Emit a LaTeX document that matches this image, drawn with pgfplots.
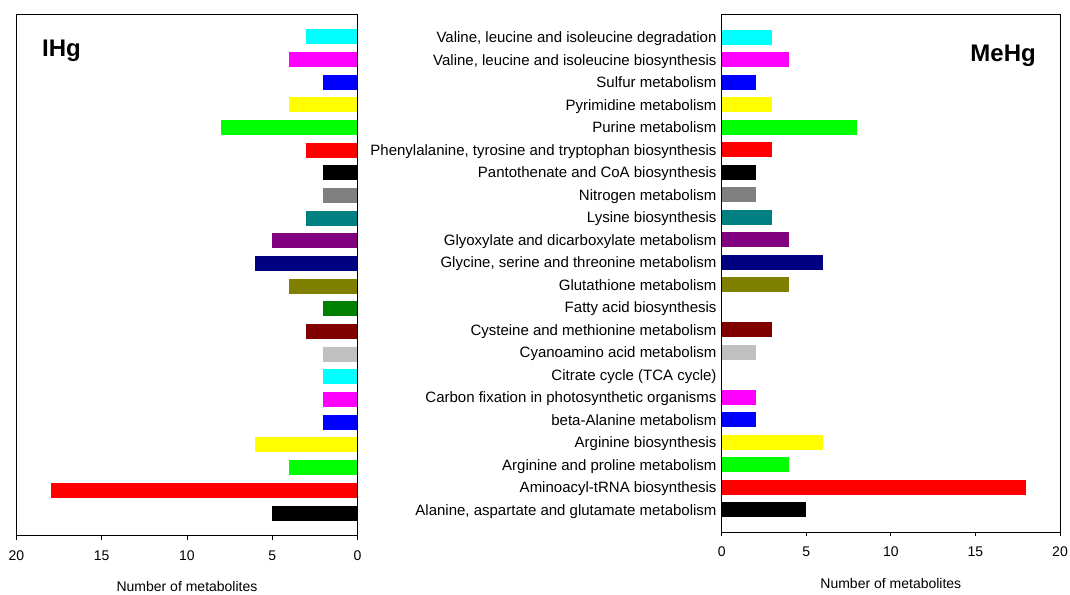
\documentclass[border=0pt]{standalone}
\usepackage{pgfplots}
\pgfplotsset{compat=1.18}
\usepackage{fontspec}
\setmainfont{Liberation Sans}
\definecolor{cBlack}{RGB}{0,0,0}
\definecolor{cRed}{RGB}{255,0,0}
\definecolor{cLime}{RGB}{0,255,0}
\definecolor{cYellow}{RGB}{255,255,0}
\definecolor{cBlue}{RGB}{0,0,255}
\definecolor{cMagenta}{RGB}{255,0,255}
\definecolor{cCyan}{RGB}{0,255,255}
\definecolor{cSilver}{RGB}{192,192,192}
\definecolor{cMaroon}{RGB}{128,0,0}
\definecolor{cDkGreen}{RGB}{0,128,0}
\definecolor{cOlive}{RGB}{128,128,0}
\definecolor{cNavy}{RGB}{0,0,128}
\definecolor{cPurple}{RGB}{128,0,128}
\definecolor{cTeal}{RGB}{0,128,128}
\definecolor{cGray}{RGB}{128,128,128}
\newcommand{\hb}[3]{\addplot[fill=#1,draw=none] coordinates {(#2,#3)};}
\pgfplotsset{
  common/.style={
    scale only axis,
    ymin=-1, ymax=22, xmin=0, xmax=20,
    xbar, bar width=15bp, bar shift=0pt,
    xtick={0,5,10,15,20},
    xtick pos=left,
    tick align=outside,
    major tick length=4bp,
    axis line style={line width=0.9bp, black},
    every tick/.style={line width=0.9bp, black},
    ticklabel style={font=\fontsize{14bp}{16bp}\selectfont},
    /pgf/number format/assume math mode=true,
    xlabel={Number of metabolites},
    clip=false,
  }
}
\begin{document}
\begin{tikzpicture}
\path[use as bounding box] (0bp,0bp) rectangle (1070bp,595bp);
% Left: IHg
\begin{axis}[common,
  at={(16.5bp,59.3bp)}, anchor=south west,
  width=341bp, height=521.7bp,
  x dir=reverse,
  ytick=\empty,
  xticklabel style={anchor=base, yshift=-20.3bp},
  xlabel style={at={(axis description cs:0.5,0)}, anchor=base, yshift=-55.3bp, font=\fontsize{14bp}{16bp}\selectfont},
]
\hb{cBlack}{5}{0}
\hb{cRed}{18}{1}
\hb{cLime}{4}{2}
\hb{cYellow}{6}{3}
\hb{cBlue}{2}{4}
\hb{cMagenta}{2}{5}
\hb{cCyan}{2}{6}
\hb{cSilver}{2}{7}
\hb{cMaroon}{3}{8}
\hb{cDkGreen}{2}{9}
\hb{cOlive}{4}{10}
\hb{cNavy}{6}{11}
\hb{cPurple}{5}{12}
\hb{cTeal}{3}{13}
\hb{cGray}{2}{14}
\hb{cBlack}{2}{15}
\hb{cRed}{3}{16}
\hb{cLime}{8}{17}
\hb{cYellow}{4}{18}
\hb{cBlue}{2}{19}
\hb{cMagenta}{4}{20}
\hb{cCyan}{3}{21}
\end{axis}
% Right: MeHg
\begin{axis}[common,
  at={(721.7bp,62.7bp)}, anchor=south west,
  width=338.3bp, height=517.6bp,
  ytick={0,...,21},
  ytick pos=left,
  ytick style={draw=none},
  yticklabel style={anchor=base east, yshift=-5.4bp, xshift=2.3bp, font=\fontsize{15bp}{17bp}\selectfont},
  yticklabels={
    {Alanine, aspartate and glutamate metabolism},
    {Aminoacyl-tRNA biosynthesis},
    {Arginine and proline metabolism},
    {Arginine biosynthesis},
    {beta-Alanine metabolism},
    {Carbon fixation in photosynthetic organisms},
    {Citrate cycle (TCA cycle)},
    {Cyanoamino acid metabolism},
    {Cysteine and methionine metabolism},
    {Fatty acid biosynthesis},
    {Glutathione metabolism},
    {Glycine, serine and threonine metabolism},
    {Glyoxylate and dicarboxylate metabolism},
    {Lysine biosynthesis},
    {Nitrogen metabolism},
    {Pantothenate and CoA biosynthesis},
    {Phenylalanine, tyrosine and tryptophan biosynthesis},
    {Purine metabolism},
    {Pyrimidine metabolism},
    {Sulfur metabolism},
    {Valine, leucine and isoleucine biosynthesis},
    {Valine, leucine and isoleucine degradation}},
  xticklabel style={anchor=base, yshift=-19.7bp},
  xlabel style={at={(axis description cs:0.5,0)}, anchor=base, yshift=-56bp, font=\fontsize{14bp}{16bp}\selectfont},
]
\hb{cBlack}{5}{0}
\hb{cRed}{18}{1}
\hb{cLime}{4}{2}
\hb{cYellow}{6}{3}
\hb{cBlue}{2}{4}
\hb{cMagenta}{2}{5}
% Citrate cycle (TCA cycle): 0
\hb{cSilver}{2}{7}
\hb{cMaroon}{3}{8}
% Fatty acid biosynthesis: 0
\hb{cOlive}{4}{10}
\hb{cNavy}{6}{11}
\hb{cPurple}{4}{12}
\hb{cTeal}{3}{13}
\hb{cGray}{2}{14}
\hb{cBlack}{2}{15}
\hb{cRed}{3}{16}
\hb{cLime}{8}{17}
\hb{cYellow}{3}{18}
\hb{cBlue}{2}{19}
\hb{cMagenta}{4}{20}
\hb{cCyan}{3}{21}
\end{axis}
\node[anchor=base west, font=\bfseries\fontsize{24bp}{26bp}\selectfont, inner sep=0pt] at (42bp,538bp) {IHg};
\node[anchor=base east, font=\bfseries\fontsize{24bp}{26bp}\selectfont, inner sep=0pt] at (1036bp,533bp) {MeHg};
\end{tikzpicture}
\end{document}
